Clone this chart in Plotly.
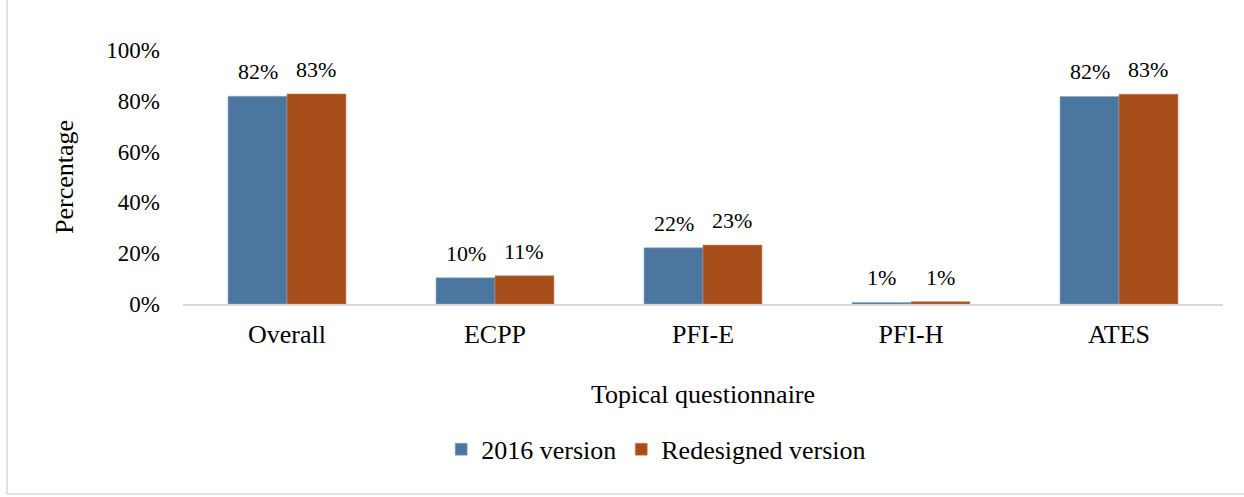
import plotly.graph_objects as go

categories = ["Overall", "ECPP", "PFI-E", "PFI-H", "ATES"]
v2016 = [81.8, 10.3, 22.1, 0.6, 81.7]
vRedesigned = [82.7, 11.1, 23.2, 0.9, 82.6]
y_ticks = [0, 20, 40, 60, 80, 100]
y_tick_labels = ["0%", "20%", "40%", "60%", "80%", "100%"]

BLUE = "#4A76A0"
ORANGE = "#A64D19"
FONT = "Liberation Serif, Times New Roman, serif"

fig = go.Figure()
fig.add_trace(go.Bar(name="2016 version", x=categories, y=v2016,
                     marker=dict(color=BLUE, line=dict(color="#8fa8c4", width=0.6))))
fig.add_trace(go.Bar(name="Redesigned version", x=categories, y=vRedesigned,
                     marker=dict(color=ORANGE, line=dict(color="#c98a66", width=0.6))))

W, H = 1244, 497
ML, MR, MT, MB = 183, 21, 50, 193
pw = W - ML - MR
ph = H - MT - MB
bar_px = pw / len(categories) * (1 - 0.433) / 2

annotations = []
for vals, sh in ((v2016, -bar_px / 2), (vRedesigned, bar_px / 2)):
    for c, v in zip(categories, vals):
        annotations.append(dict(x=c, y=v, xref="x", yref="y", text=f"{round(v)}%",
                                showarrow=False, yanchor="bottom", xshift=sh, yshift=10,
                                font=dict(family=FONT, size=22, color="#000")))

fig.update_layout(
    width=W, height=H,
    margin=dict(l=ML, r=MR, t=MT, b=MB, autoexpand=False),
    paper_bgcolor="white", plot_bgcolor="white",
    barmode="group", bargap=0.433, bargroupgap=0,
    font=dict(family=FONT, size=26, color="#000"),
    showlegend=True,
    legend=dict(orientation="h", x=0.455, xanchor="center", y=-0.572, yanchor="middle",
                font=dict(family=FONT, size=26), itemwidth=30, traceorder="normal"),
    annotations=annotations,
    shapes=[dict(type="rect", xref="paper", yref="paper",
                 x0=(7 - ML) / pw, x1=(W + 20 - ML) / pw,
                 y0=-(494 - (MT + ph)) / ph, y1=1 + (MT + 20) / ph,
                 line=dict(color="#d9d9d9", width=1.5), fillcolor="rgba(0,0,0,0)", layer="below")],
)
fig.update_xaxes(showline=True, linecolor="#d9d9d9", linewidth=1.5, showgrid=False,
                 ticks="", ticklabelstandoff=6, tickfont=dict(family=FONT, size=26),
                 title=dict(text="Topical questionnaire", font=dict(family=FONT, size=26), standoff=37))
fig.update_yaxes(range=[0, 100], tickvals=y_ticks, ticktext=y_tick_labels, showgrid=False,
                 showline=False, zeroline=False, ticks="", ticklabelstandoff=22,
                 tickfont=dict(family=FONT, size=23),
                 title=dict(text="Percentage", font=dict(family=FONT, size=26), standoff=25))

fig.write_html("out.html", config={"displayModeBar": False},
               post_script="document.body.style.margin='0px';")
